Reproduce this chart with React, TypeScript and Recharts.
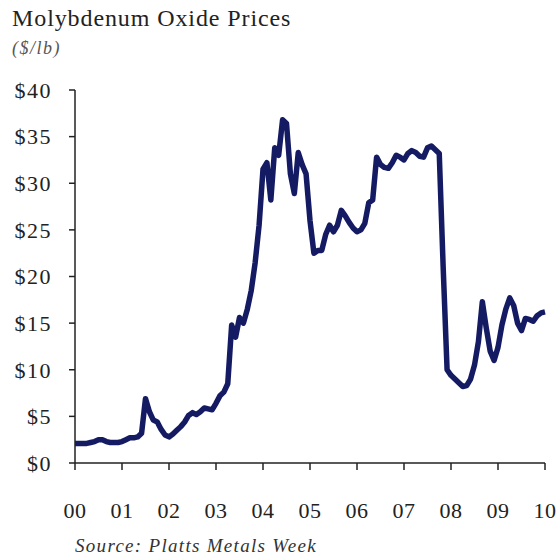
import React from 'react';
import { LineChart, Line, XAxis, YAxis } from 'recharts';

// monthly molybdenum oxide price, Jan 2000 .. Jan 2010 ($/lb)
const prices = [
  2.1, 2.1, 2.1, 2.1, 2.2, 2.3, 2.5, 2.5, 2.3, 2.2, 2.2, 2.2,
  2.3, 2.5, 2.7, 2.7, 2.8, 3.2, 6.9, 5.5, 4.6, 4.4, 3.6, 3.0,
  2.8, 3.1, 3.5, 3.9, 4.4, 5.1, 5.4, 5.2, 5.5, 5.9, 5.8, 5.7,
  6.4, 7.2, 7.6, 8.5, 14.8, 13.5, 15.6, 15.0, 16.5, 18.5, 21.5, 25.5,
  31.5, 32.2, 28.2, 33.8, 33.0, 36.8, 36.4, 31.0, 28.9, 33.3, 32.0, 31.0,
  26.0, 22.5, 22.8, 22.8, 24.5, 25.5, 24.8, 25.5, 27.1, 26.5, 25.8, 25.2,
  24.8, 25.0, 25.7, 27.9, 28.2, 32.8, 32.0, 31.7, 31.6, 32.2, 33.0, 32.8,
  32.5, 33.2, 33.5, 33.3, 32.9, 32.8, 33.8, 34.0, 33.6, 33.2, 21.0, 10.0,
  9.4, 9.0, 8.6, 8.2, 8.3, 9.0, 10.5, 13.0, 17.3, 14.5, 12.0, 11.0,
  12.4, 14.8, 16.5, 17.7, 16.9, 15.0, 14.2, 15.5, 15.4, 15.2, 15.8, 16.1,
  16.2,
];

const yearLabels = ['00', '01', '02', '03', '04', '05', '06', '07', '08', '09', '10'];
const yearTicks = yearLabels.map((_, i) => i * 12);
const priceTicks = [0, 5, 10, 15, 20, 25, 30, 35, 40];

const data = prices.map((p, i) => ({ month: i, price: p }));

const serif = '"Liberation Serif", "Times New Roman", serif';

const App: React.FC = () => {
  return (
    <div style={{ position: 'absolute', left: 0, top: 0, width: 556, height: 558, background: '#fff', fontFamily: serif }}>
      <div style={{ position: 'absolute', left: 12, top: 5, fontSize: 24, letterSpacing: 0.9, color: '#222', whiteSpace: 'nowrap' }}>
        Molybdenum Oxide Prices
      </div>
      <div style={{ position: 'absolute', left: 12, top: 38, fontSize: 18, letterSpacing: 1.5, fontStyle: 'italic', color: '#555' }}>
        ($/lb)
      </div>
      <LineChart width={556} height={558} data={data} margin={{ top: 90, right: 11, bottom: 0, left: 0 }}>
        <XAxis
          dataKey="month"
          type="number"
          domain={[0, 120]}
          ticks={yearTicks}
          tickFormatter={(v: number) => yearLabels[v / 12]}
          height={95}
          tickSize={7}
          tickMargin={32}
          stroke="#222"
          strokeWidth={1.5}
          tick={{ fontSize: 22, fill: '#222', fontFamily: serif, letterSpacing: 0.5 }}
          interval={0}
        />
        <YAxis
          type="number"
          domain={[0, 40]}
          ticks={priceTicks}
          tickFormatter={(v: number) => `$${v}`}
          width={75}
          tickSize={6}
          tickMargin={17}
          stroke="#222"
          strokeWidth={1.5}
          tick={{ fontSize: 22, fill: '#222', fontFamily: serif, letterSpacing: 1.5 }}
          interval={0}
        />
        <Line
          type="linear"
          dataKey="price"
          stroke="#141b63"
          strokeWidth={5.5}
          dot={false}
          strokeLinejoin="round"
          isAnimationActive={false}
        />
      </LineChart>
      <div style={{ position: 'absolute', left: 75, top: 535, fontSize: 19, letterSpacing: 1.3, fontStyle: 'italic', color: '#333', whiteSpace: 'nowrap' }}>
        Source: Platts Metals Week
      </div>
    </div>
  );
};

export default App;
